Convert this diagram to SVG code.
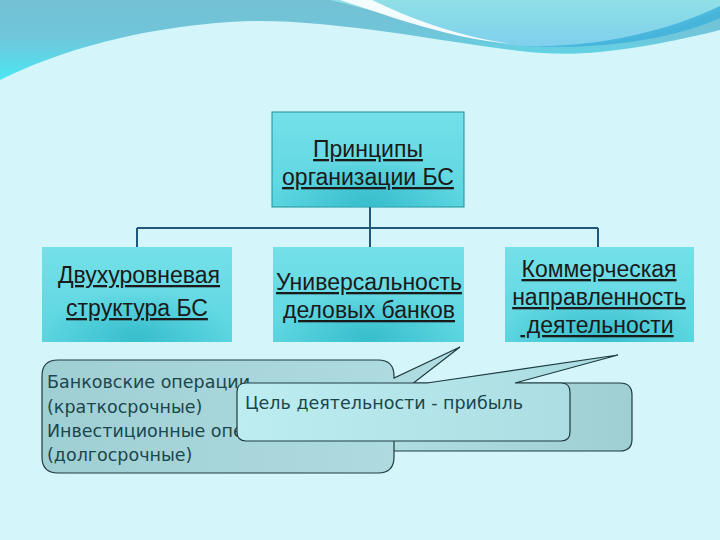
<svg xmlns="http://www.w3.org/2000/svg" width="720" height="540" viewBox="0 0 720 540">
<defs>
<linearGradient id="band" x1="0" y1="0" x2="0" y2="1">
<stop offset="0" stop-color="#74c0d3"/>
<stop offset="0.45" stop-color="#70c6da"/>
<stop offset="1" stop-color="#4be6f3"/>
</linearGradient>
<linearGradient id="hi" x1="0" y1="0" x2="0" y2="1">
<stop offset="0" stop-color="#8fe0e6"/>
<stop offset="1" stop-color="#7fcfee"/>
</linearGradient>
<linearGradient id="node" x1="0" y1="0" x2="0" y2="1">
<stop offset="0" stop-color="#74e0e8"/>
<stop offset="1" stop-color="#5ad5e0"/>
</linearGradient>
<radialGradient id="glow" cx="0.5" cy="0.95" r="0.5" fx="0.5" fy="0.95">
<stop offset="0" stop-color="#2fb8c8" stop-opacity="0.8"/>
<stop offset="1" stop-color="#2fb8c8" stop-opacity="0"/>
</radialGradient>
<linearGradient id="callA" x1="0" y1="0" x2="1" y2="0">
<stop offset="0" stop-color="#a0cfd3"/>
<stop offset="1" stop-color="#b0dde1"/>
</linearGradient>
<linearGradient id="callB" x1="0" y1="0" x2="1" y2="0">
<stop offset="0" stop-color="#bdedf1"/>
<stop offset="1" stop-color="#a9dbe0"/>
</linearGradient>
<linearGradient id="callC" x1="0" y1="0" x2="1" y2="0">
<stop offset="0" stop-color="#b4e3e7"/>
<stop offset="1" stop-color="#9fcfd3"/>
</linearGradient>
<clipPath id="cut1"><rect x="0" y="0" width="253" height="540"/></clipPath>
</defs>
<style>
.node-bg{fill:url(#node)}
.glow{fill:url(#glow)}
.lbl{font-family:"Liberation Sans",Arial,sans-serif;font-size:23px;fill:#1a1a1a;text-anchor:middle;text-decoration:underline;text-decoration-skip-ink:none}
.conn{stroke:#1f5878;stroke-width:2;fill:none}
.call{stroke:#1e3a40;stroke-width:1.2}
.ctext{font-family:"DejaVu Sans",Verdana,sans-serif;font-size:17.5px;fill:#1a464e}
</style>
<rect width="720" height="540" fill="#d4f6fb"/>
<g id="background-band">
<path d="M0,0 H720 V30 C680,40 640,48 600,52 C570,55 545,54 520,51 C440,42 320,16 230,22 C140,28 60,50 0,80 Z" fill="url(#band)"/>
<path d="M330,0 H720 V10 C660,40 580,48 520,46 C470,40 420,22 330,0 Z" fill="url(#hi)"/>
<path d="M340,0 C400,20 450,38 512,44 C455,36 410,18 372,0 Z" fill="#ffffff" opacity="0.9"/>
<path d="M525,46 C600,48 670,30 720,6 V18 C670,40 600,50 525,46 Z" fill="#3fb2da" opacity="0.85"/>
</g>
<g id="connectors">
<path class="conn" d="M370,207 V228 M137,228 H598 M137,228 V247 M370,228 V247 M598,228 V247"/>
</g>
<g id="node-top">
<rect x="272" y="112" width="192" height="95" class="node-bg" stroke="#1b8f99" stroke-width="1"/>
<rect x="272" y="112" width="192" height="95" class="glow"/>
<text class="lbl" x="368" y="157">Принципы</text>
<text class="lbl" x="368" y="185">организации БС</text>
</g>
<g id="node-1">
<rect x="42" y="247" width="190" height="95" class="node-bg"/>
<rect x="42" y="247" width="190" height="95" class="glow"/>
<text class="lbl" x="139" y="283">Двухуровневая</text>
<text class="lbl" x="137" y="316">структура БС</text>
</g>
<g id="node-2">
<rect x="273" y="247" width="191" height="95" class="node-bg"/>
<rect x="273" y="247" width="191" height="95" class="glow"/>
<text class="lbl" x="369" y="290">Универсальность</text>
<text class="lbl" x="369" y="318">деловых банков</text>
</g>
<g id="node-3">
<rect x="505" y="247" width="189" height="95" class="node-bg"/>
<rect x="505" y="247" width="189" height="95" class="glow"/>
<text class="lbl" x="599" y="277">Коммерческая</text>
<text class="lbl" x="599" y="305">направленность</text>
<text class="lbl" x="597" y="333">&#160;деятельности</text>
</g>
<g id="callout-wide">
<path class="call" fill="url(#callC)" d="M312,383 H620 Q632,383 632,395 V439 Q632,451 620,451 H312 Q300,451 300,439 V395 Q300,383 312,383 Z"/>
</g>
<g id="callout-operations">
<path class="call" fill="url(#callA)" d="M58,360 H378 Q394,360 394,376 L394,378 L460,347 L394,398 V457 Q394,473 378,473 H58 Q42,473 42,457 V376 Q42,360 58,360 Z"/>
<text class="ctext" x="47" y="388" clip-path="url(#cut1)">Банковские операции</text>
<text class="ctext" x="47" y="413">(краткосрочные)</text>
<text class="ctext" x="47" y="437">Инвестиционные операции</text>
<text class="ctext" x="47" y="461">(долгосрочные)</text>
</g>
<g id="callout-profit">
<path class="call" fill="url(#callB)" d="M246,383 H427 L618,355 L515,383 H561 Q570,383 570,392 V432 Q570,441 561,441 H246 Q237,441 237,432 V392 Q237,383 246,383 Z"/>
<text class="ctext" x="245" y="409">Цель деятельности - прибыль</text>
</g>
</svg>
